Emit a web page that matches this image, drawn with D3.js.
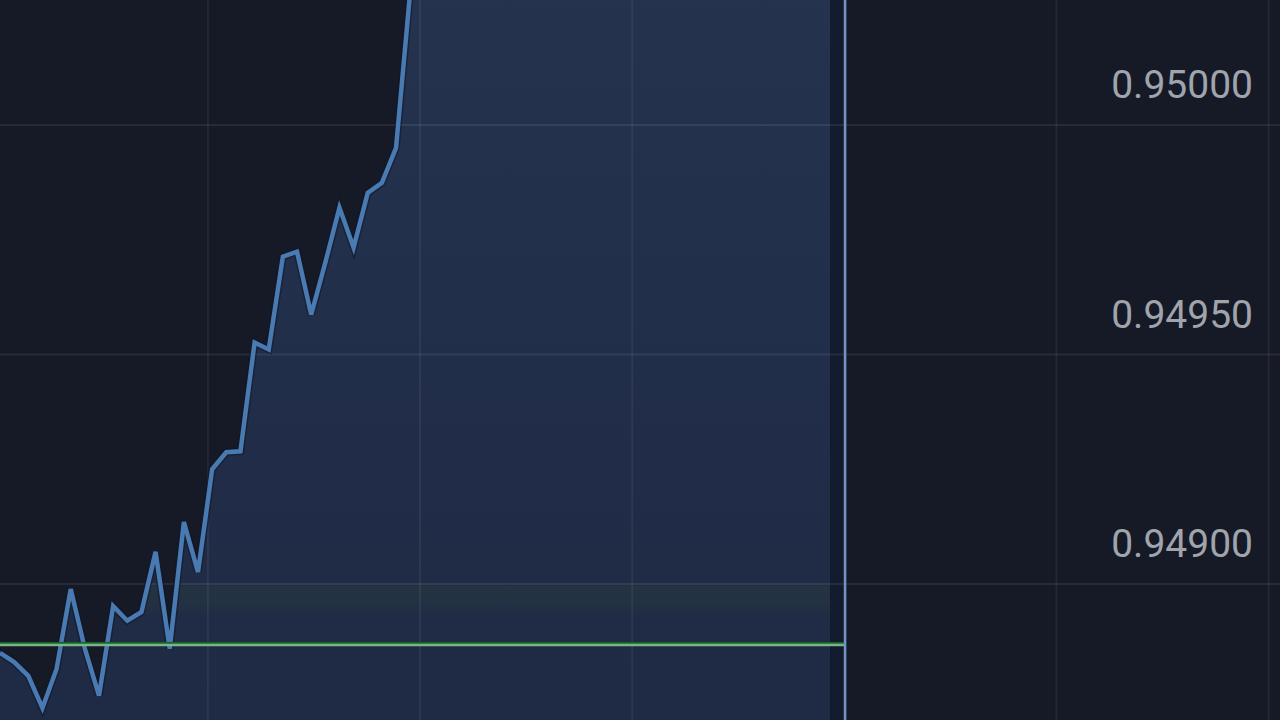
<!DOCTYPE html>
<html>
<head>
<meta charset="utf-8">
<script src="https://cdn.jsdelivr.net/npm/d3@7"></script>
<style>
  html, body { margin: 0; padding: 0; background: #161a26; overflow: hidden; }
  svg { display: block; }
</style>
</head>
<body>
<svg id="chart" width="1280" height="720"></svg>
<script>
// ---- data ----
const times = [0, 2, 4, 6, 8, 10, 12, 14, 16, 18, 20, 22, 24, 26, 28, 30, 32, 34, 36, 38, 40, 42, 44, 46, 48, 50, 52, 54, 56, 58,
  60, 62, 64, 66, 68, 70, 72, 74, 76, 78, 80, 82, 84, 86, 88, 90, 92, 94, 96, 98, 100, 102, 104, 106, 108, 110, 112, 114, 116, 117.4];
const prices = [0.948850, 0.948830, 0.948800, 0.948730, 0.948815, 0.948989, 0.948859, 0.948757, 0.948952, 0.948920, 0.948939, 0.949070, 0.948859, 0.949135, 0.949026, 0.949250,
  0.949287, 0.949289, 0.949526, 0.949511, 0.949713, 0.949724, 0.949587, 0.949700, 0.949820, 0.949733, 0.949852, 0.949874, 0.949950, 0.950290,
  0.950420, 0.950500, 0.950560, 0.950610, 0.950580, 0.950650, 0.950700, 0.950680, 0.950740, 0.950790, 0.950760, 0.950820, 0.950850, 0.950830, 0.950880,
  0.950900, 0.950870, 0.950920, 0.950950, 0.950930, 0.950980, 0.951000, 0.950970, 0.951020, 0.951050, 0.951030, 0.951060, 0.951080, 0.951070, 0.951090];
const yTicks = [0.94900, 0.94950, 0.95000];
const xGridTimes = [29.4, 59.4, 89.4, 119.4, 149.4, 179.4];
const entryPrice = 0.948867;
const expiryTime = 119.5;
const lastTime = 117.4;

// ---- layout ----
const W = 1280, H = 720;
const svg = d3.select("#chart");
const x = d3.scaleLinear().domain([0, 181]).range([0, W]);
const y = d3.scaleLinear().domain([0.94900, 0.95000]).range([584, 125]);

const defs = svg.append("defs");
const grad = defs.append("linearGradient").attr("id", "fillGrad").attr("x1", 0).attr("y1", 0).attr("x2", 0).attr("y2", 1);
grad.append("stop").attr("offset", "0%").attr("stop-color", "#273754");
grad.append("stop").attr("offset", "100%").attr("stop-color", "#1f2a44");

const greenGrad = defs.append("linearGradient").attr("id", "greenGrad").attr("x1", 0).attr("y1", 0).attr("x2", 0).attr("y2", 1);
greenGrad.append("stop").attr("offset", "0%").attr("stop-color", "#2c4238").attr("stop-opacity", 0.35);
greenGrad.append("stop").attr("offset", "60%").attr("stop-color", "#2c4238").attr("stop-opacity", 0.25);
greenGrad.append("stop").attr("offset", "100%").attr("stop-color", "#2c4238").attr("stop-opacity", 0.0);

defs.append("clipPath").attr("id", "clip").append("rect").attr("x", 0).attr("y", 0).attr("width", W).attr("height", H);

svg.append("rect").attr("width", W).attr("height", H).attr("fill", "#161a26");

const data = times.map((t, i) => ({ t, v: prices[i] }));

// area
const area = d3.area().x(d => x(d.t)).y0(H).y1(d => y(d.v));
defs.append("clipPath").attr("id", "areaClip").append("path").datum(data).attr("d", area);
svg.append("path").datum(data).attr("clip-path", "url(#clip)")
  .attr("d", area).attr("fill", "url(#fillGrad)");

// dark strip between last point and expiry line
svg.append("rect")
  .attr("x", x(lastTime)).attr("y", 0)
  .attr("width", x(expiryTime) - x(lastTime) - 1).attr("height", H)
  .attr("fill", "#131b2e");

// subtle greenish band just above the entry line, inside the area
svg.append("rect")
  .attr("x", 0).attr("y", y(0.94900) + 2)
  .attr("width", x(lastTime)).attr("height", 30)
  .attr("fill", "url(#greenGrad)").attr("clip-path", "url(#areaClip)");

// grid
svg.append("g").selectAll("line").data(yTicks).join("line")
  .attr("x1", 0).attr("x2", W).attr("y1", d => y(d)).attr("y2", d => y(d))
  .attr("stroke", "#ffffff").attr("stroke-opacity", 0.08).attr("stroke-width", 2);
svg.append("g").selectAll("line").data(xGridTimes).join("line")
  .attr("x1", d => x(d)).attr("x2", d => x(d)).attr("y1", 0).attr("y2", H)
  .attr("stroke", "#ffffff").attr("stroke-opacity", 0.06).attr("stroke-width", 2);

// price line
const line = d3.line().x(d => x(d.t)).y(d => y(d.v));
svg.append("path").datum(data).attr("clip-path", "url(#clip)")
  .attr("d", line).attr("fill", "none")
  .attr("stroke", "#0e1526").attr("stroke-width", 7.5).attr("stroke-opacity", 0.5).attr("stroke-linejoin", "miter");
svg.append("path").datum(data).attr("clip-path", "url(#clip)")
  .attr("d", line).attr("fill", "none")
  .attr("stroke", "#4a7ab2").attr("stroke-width", 4.5).attr("stroke-linejoin", "miter");

// entry (green) line
svg.append("line")
  .attr("x1", 0).attr("x2", x(expiryTime)).attr("y1", y(entryPrice) - 2).attr("y2", y(entryPrice) - 2)
  .attr("stroke", "#17642a").attr("stroke-width", 2);
svg.append("line")
  .attr("x1", 0).attr("x2", x(expiryTime)).attr("y1", y(entryPrice)).attr("y2", y(entryPrice))
  .attr("stroke", "#7db486").attr("stroke-width", 2.5);

// expiry vertical line
svg.append("line")
  .attr("x1", x(expiryTime)).attr("x2", x(expiryTime)).attr("y1", 0).attr("y2", H)
  .attr("stroke", "#6f95c8").attr("stroke-width", 2.5);

// y labels
svg.append("g").selectAll("text").data(yTicks).join("text")
  .attr("x", 1253).attr("y", d => y(d) - 27)
  .attr("text-anchor", "end")
  .attr("font-family", "Roboto, 'Noto Sans', sans-serif")
  .attr("font-size", 39)
  .attr("fill", "#a0a4ad")
  .text(d => d3.format(".5f")(d));
</script>
</body>
</html>
